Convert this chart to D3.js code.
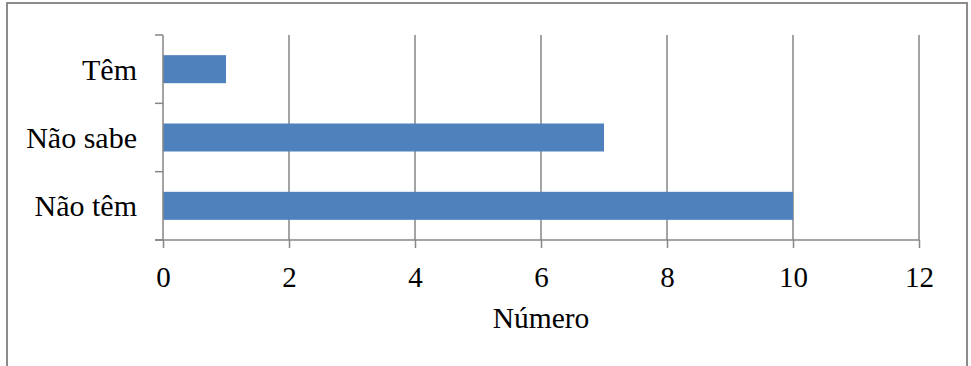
<!DOCTYPE html>
<html>
<head>
<meta charset="utf-8">
<script src="https://cdn.jsdelivr.net/npm/d3@7"></script>
<style>
  body { margin: 0; background: #fff; }
  svg text { font-family: "Liberation Serif", "Times New Roman", serif; fill: #000; }
</style>
</head>
<body>
<svg id="chart" width="971" height="366"></svg>
<script>
// data
var categories = ["Têm", "Não sabe", "Não têm"];
var values = [1, 7, 10];
var xTicks = [0, 2, 4, 6, 8, 10, 12];
var xTitle = "Número";

var svg = d3.select("#chart");
var W = 971, H = 366;
var m = { left: 163, right: 52, top: 35, bottom: 126 };
var gray = "#868686";

// outer frame
svg.append("rect")
	.attr("x", 7).attr("y", 3)
	.attr("width", 960).attr("height", 366)
	.attr("fill", "none")
	.attr("stroke", "#8c8c8c")
	.attr("stroke-width", 2);

var x = d3.scaleLinear().domain([0, 12]).range([m.left, W - m.right]);
var y = d3.scaleBand().domain(categories)
	.range([m.top, H - m.bottom])
	.paddingInner(0.59).paddingOuter(0.295);

// vertical gridlines
svg.append("g").selectAll("line")
	.data(xTicks.filter(function(d) { return d > 0; }))
	.enter().append("line")
	.attr("x1", function(d) { return x(d); })
	.attr("x2", function(d) { return x(d); })
	.attr("y1", m.top).attr("y2", H - m.bottom)
	.attr("stroke", gray).attr("stroke-width", 1.5);

// bars
svg.append("g").selectAll("rect")
	.data(categories)
	.enter().append("rect")
	.attr("x", x(0))
	.attr("y", function(d) { return y(d); })
	.attr("width", function(d, i) { return x(values[i]) - x(0); })
	.attr("height", y.bandwidth())
	.attr("fill", "#4f81bd");

// x axis
var xAxis = svg.append("g")
	.attr("transform", "translate(0," + (H - m.bottom) + ")")
	.call(d3.axisBottom(x).tickValues(xTicks).tickSize(8).tickPadding(18));
xAxis.select(".domain").attr("stroke", gray).attr("stroke-width", 1.5)
	.attr("d", "M" + (x(0) - 8) + ",0H" + x(12));
xAxis.selectAll(".tick line").attr("stroke", gray).attr("stroke-width", 1.5);
xAxis.selectAll(".tick text").style("font-size", "29px");

// y axis: ticks at category boundaries
var yAxis = svg.append("g")
	.attr("transform", "translate(" + m.left + ",0)");
yAxis.append("line")
	.attr("x1", 0).attr("x2", 0)
	.attr("y1", m.top).attr("y2", H - m.bottom)
	.attr("stroke", gray).attr("stroke-width", 1.5);
var step = y.step();
var bounds = categories.map(function(d) { return y(d) - y.paddingOuter() * step; });
bounds.push(H - m.bottom);
yAxis.selectAll("line.tk").data(bounds).enter().append("line")
	.attr("class", "tk")
	.attr("x1", -8).attr("x2", 0)
	.attr("y1", function(d) { return d; }).attr("y2", function(d) { return d; })
	.attr("stroke", gray).attr("stroke-width", 1.5);
yAxis.selectAll("text").data(categories).enter().append("text")
	.attr("x", -26)
	.attr("y", function(d) { return y(d) + y.bandwidth() / 2; })
	.attr("dy", "0.35em")
	.attr("text-anchor", "end")
	.style("font-size", "30px")
	.text(function(d) { return d; });

// axis title
svg.append("text")
	.attr("x", (x(0) + x(12)) / 2)
	.attr("y", 328)
	.attr("text-anchor", "middle")
	.style("font-size", "29.5px")
	.text(xTitle);
</script>
</body>
</html>
